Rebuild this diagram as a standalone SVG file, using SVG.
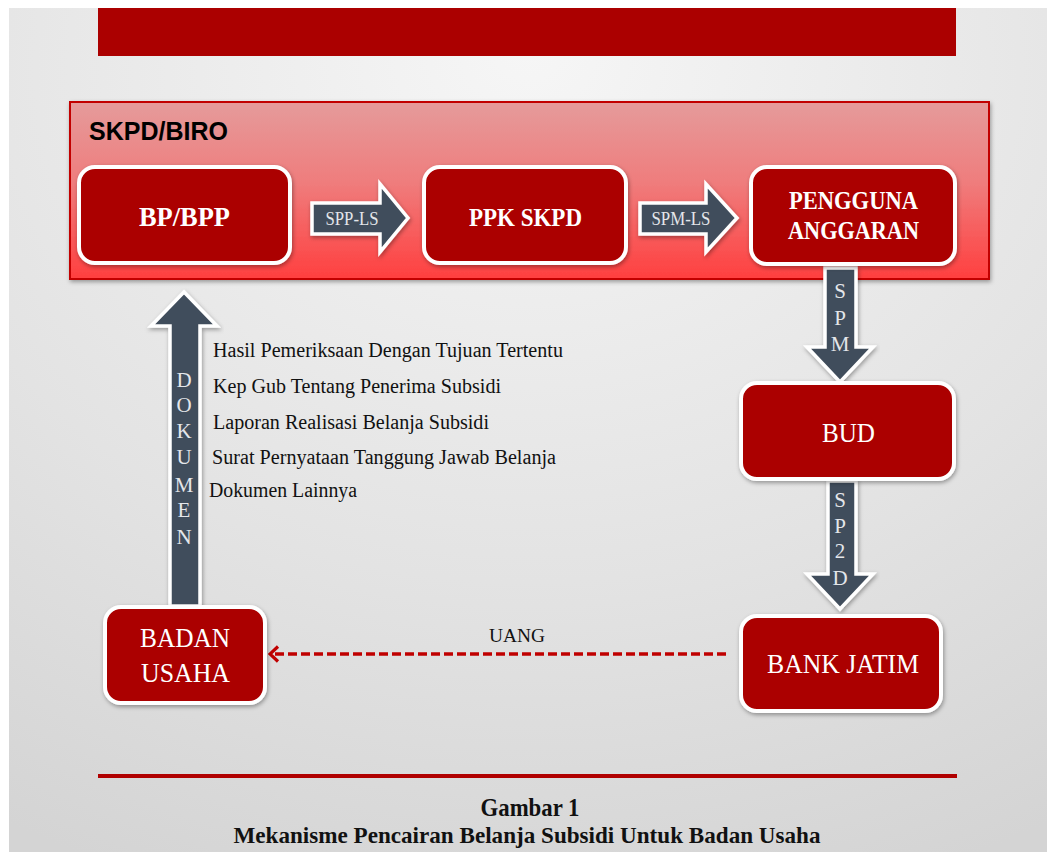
<svg xmlns="http://www.w3.org/2000/svg" width="1047" height="852" viewBox="0 0 1047 852">
<defs>
<radialGradient id="bg" cx="0.5" cy="0.1" r="1" fx="0.5" fy="0.05">
<stop offset="0" stop-color="#f6f6f6"/>
<stop offset="0.6" stop-color="#e3e3e3"/>
<stop offset="1" stop-color="#d4d4d4"/>
</radialGradient>
<linearGradient id="grp" x1="0" y1="0" x2="0" y2="1">
<stop offset="0" stop-color="#e59b9b"/>
<stop offset="0.45" stop-color="#ef7d7d"/>
<stop offset="1" stop-color="#ff3f3f"/>
</linearGradient>
<filter id="sh" x="-10%" y="-10%" width="120%" height="130%">
<feDropShadow dx="1" dy="2" stdDeviation="2" flood-color="#000" flood-opacity="0.35"/>
</filter>
<marker id="chev" viewBox="0 0 12 18" refX="10" refY="9" markerWidth="12" markerHeight="18" markerUnits="userSpaceOnUse" orient="auto">
<polyline points="2,1.5 10,9 2,16.5" fill="none" stroke="#c00000" stroke-width="3.2"/>
</marker>
</defs>
<style>
.box{fill:#ab0000;stroke:#ffffff;stroke-width:4;filter:url(#sh)}
.arr{fill:#414d5b;stroke:#ffffff;stroke-width:3.5;stroke-linejoin:miter;filter:url(#sh)}
.tb{font-family:"Liberation Serif","Times New Roman",serif;font-weight:bold;fill:#ffffff;text-anchor:middle}
.tr{font-family:"Liberation Serif","Times New Roman",serif;fill:#ffffff;text-anchor:middle}
.ta{font-family:"Liberation Serif","Times New Roman",serif;fill:#e4e6ea;text-anchor:middle}
.tk{font-family:"Liberation Serif","Times New Roman",serif;fill:#111111}
.cap{font-family:"Liberation Serif","Times New Roman",serif;font-weight:bold;fill:#111111;text-anchor:middle}
</style>
<rect x="0" y="0" width="1047" height="852" fill="#ffffff"/>
<rect x="9" y="8" width="1038" height="844" fill="url(#bg)"/>
<rect x="98" y="8" width="858" height="48" fill="#ab0000"/>

<g id="skpd-biro">
<rect x="70" y="102" width="919" height="177" fill="url(#grp)" stroke="#c20000" stroke-width="2" filter="url(#sh)"/>
<text x="89" y="140" font-family="'Liberation Sans',Arial,sans-serif" font-weight="bold" font-size="25" fill="#000000">SKPD/BIRO</text>
</g>

<g id="connectors">
<polygon class="arr" points="312,203 380,203 380,184 408,218 380,252 380,234 312,234"/>
<text class="ta" x="352" y="225" font-size="18" textLength="53" lengthAdjust="spacingAndGlyphs">SPP-LS</text>
<polygon class="arr" points="640,203 706,203 706,184 737,218 706,252 706,234 640,234"/>
<text class="ta" x="681" y="225" font-size="18" textLength="59" lengthAdjust="spacingAndGlyphs">SPM-LS</text>
<polygon class="arr" points="825,268 856,268 856,347 873,347 840,382 807,347 825,347"/>
<text class="ta" x="840" y="298" font-size="21">S</text>
<text class="ta" x="840" y="325" font-size="21">P</text>
<text class="ta" x="840" y="351" font-size="21">M</text>
<polygon class="arr" points="828,481 856,481 856,574 873,574 840,609 807,574 828,574"/>
<text class="ta" x="840" y="507" font-size="21">S</text>
<text class="ta" x="840" y="533" font-size="21">P</text>
<text class="ta" x="840" y="558" font-size="21">2</text>
<text class="ta" x="840" y="585" font-size="21">D</text>
<polygon class="arr" points="184,292 217,326 200,326 200,606 170,606 170,326 151,326"/>
<text class="ta" x="184" y="387" font-size="21">D</text>
<text class="ta" x="184" y="412" font-size="21">O</text>
<text class="ta" x="184" y="438" font-size="21">K</text>
<text class="ta" x="184" y="464" font-size="21">U</text>
<text class="ta" x="184" y="492" font-size="21">M</text>
<text class="ta" x="184" y="517" font-size="21">E</text>
<text class="ta" x="184" y="544" font-size="21">N</text>
<line x1="726" y1="654" x2="270" y2="654" stroke="#c00000" stroke-width="3.5" stroke-dasharray="9 4" marker-end="url(#chev)"/>
<text x="517" y="642" font-family="'Liberation Serif','Times New Roman',serif" font-size="19" fill="#111111" text-anchor="middle" textLength="56" lengthAdjust="spacingAndGlyphs">UANG</text>
</g>

<g id="bp-bpp">
<rect class="box" x="79" y="167" width="211" height="96" rx="16"/>
<text class="tb" x="184.5" y="226" font-size="28" textLength="91" lengthAdjust="spacingAndGlyphs">BP/BPP</text>
</g>
<g id="ppk-skpd">
<rect class="box" x="424" y="167" width="202" height="96" rx="16"/>
<text class="tb" x="525.5" y="226" font-size="26" textLength="113" lengthAdjust="spacingAndGlyphs">PPK SKPD</text>
</g>
<g id="pengguna-anggaran">
<rect class="box" x="751" y="167" width="204" height="97" rx="16"/>
<text class="tb" x="853.5" y="209" font-size="25" textLength="129" lengthAdjust="spacingAndGlyphs">PENGGUNA</text>
<text class="tb" x="853.5" y="239" font-size="25" textLength="131" lengthAdjust="spacingAndGlyphs">ANGGARAN</text>
</g>
<g id="bud">
<rect class="box" x="741" y="383" width="213" height="96" rx="16"/>
<text class="tr" x="848.5" y="442" font-size="27" textLength="53" lengthAdjust="spacingAndGlyphs">BUD</text>
</g>
<g id="bank-jatim">
<rect class="box" x="741" y="616" width="200" height="95" rx="16"/>
<text class="tr" x="843" y="673" font-size="27" textLength="152" lengthAdjust="spacingAndGlyphs">BANK JATIM</text>
</g>
<g id="badan-usaha">
<rect class="box" x="105" y="607" width="160" height="96" rx="16"/>
<text class="tr" x="185" y="647" font-size="27" textLength="90" lengthAdjust="spacingAndGlyphs">BADAN</text>
<text class="tr" x="185.5" y="682" font-size="27" textLength="89" lengthAdjust="spacingAndGlyphs">USAHA</text>
</g>

<g id="dokumen-list">
<text class="tk" x="213" y="357" font-size="20" textLength="350" lengthAdjust="spacingAndGlyphs">Hasil Pemeriksaan Dengan Tujuan Tertentu</text>
<text class="tk" x="213" y="393" font-size="20" textLength="288" lengthAdjust="spacingAndGlyphs">Kep Gub Tentang Penerima Subsidi</text>
<text class="tk" x="213" y="429" font-size="20" textLength="276" lengthAdjust="spacingAndGlyphs">Laporan Realisasi Belanja Subsidi</text>
<text class="tk" x="212" y="464" font-size="20" textLength="344" lengthAdjust="spacingAndGlyphs">Surat Pernyataan Tanggung Jawab Belanja</text>
<text class="tk" x="209" y="497" font-size="20" textLength="148" lengthAdjust="spacingAndGlyphs">Dokumen Lainnya</text>
</g>

<rect x="98" y="774" width="859" height="4" fill="#b00000"/>
<g id="caption">
<text class="cap" x="530" y="816" font-size="25" textLength="99" lengthAdjust="spacingAndGlyphs">Gambar 1</text>
<text class="cap" x="527" y="843" font-size="24" textLength="587" lengthAdjust="spacingAndGlyphs">Mekanisme Pencairan Belanja Subsidi Untuk Badan Usaha</text>
</g>
</svg>
